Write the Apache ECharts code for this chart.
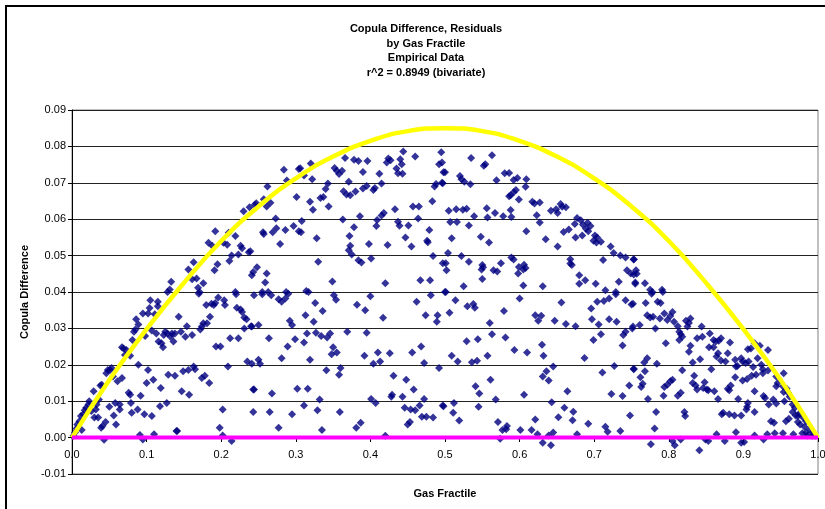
<!DOCTYPE html>
<html>
<head>
<meta charset="utf-8">
<script src="https://cdn.jsdelivr.net/npm/echarts@6/dist/echarts.min.js"></script>
<style>
  html, body { margin: 0; padding: 0; background: #fff; }
  #chart { width: 825px; height: 509px; }
</style>
</head>
<body>
<div id="chart"></div>
<script>
// residual points [gas fractile, copula difference]
const residualPoints = [
    [0.133,0.0428],[0.128,0.040],[0.131,0.0407],[0.156,0.0462],[0.163,0.0482],[0.161,0.0435],[0.167,0.0437],[0.169,0.0412],
    [0.171,0.040],[0.176,0.0424],[0.183,0.0535],[0.188,0.0527],[0.192,0.0567],[0.191,0.046],[0.195,0.0476],[0.203,0.0535],
    [0.208,0.053],[0.210,0.0563],[0.211,0.0485],[0.214,0.050],[0.219,0.0554],[0.223,0.0503],[0.226,0.0527],[0.228,0.052],
    [0.237,0.0509],[0.230,0.0622],[0.238,0.0633],[0.245,0.064],[0.241,0.0446],[0.219,0.040],
    [0.247,0.0644],[0.257,0.0655],[0.261,0.0635],[0.266,0.0645],[0.262,0.069],[0.284,0.0736],[0.288,0.0706],[0.304,0.0738],
    [0.306,0.074],[0.311,0.072],[0.320,0.0753],[0.322,0.071],[0.301,0.0661],[0.319,0.0648],[0.323,0.0626],[0.333,0.0658],
    [0.337,0.0661],[0.340,0.0683],[0.344,0.0635],[0.343,0.0698],[0.352,0.0741],[0.355,0.0733],[0.358,0.0724],[0.362,0.0733],
    [0.366,0.0768],[0.371,0.0703],[0.364,0.0677],[0.368,0.0668],[0.373,0.0666],[0.380,0.0676],[0.378,0.0763],[0.384,0.076],
    [0.390,0.073],[0.396,0.076],[0.390,0.0684],[0.395,0.0691],[0.404,0.068],[0.406,0.0686],[0.412,0.0725],[0.415,0.0698],
    [0.422,0.0756],[0.424,0.0767],[0.427,0.0762],[0.435,0.0739],[0.437,0.0726],[0.440,0.0765],[0.442,0.0751],[0.444,0.0786],
    [0.443,0.0725],[0.460,0.0772],[0.495,0.0784],[0.492,0.0751],[0.498,0.0729],[0.488,0.0697],[0.486,0.069],[0.497,0.0699],
    [0.483,0.0649],[0.433,0.0627],[0.457,0.0635],[0.465,0.0635],[0.415,0.061],[0.418,0.0617],[0.409,0.0598],[0.408,0.0581],
    [0.386,0.0608],[0.378,0.0578],[0.372,0.0554],[0.363,0.0599],[0.373,0.0527],[0.371,0.0515],[0.375,0.0503],[0.384,0.0487],
    [0.388,0.0481],[0.401,0.0492],[0.398,0.0532],[0.423,0.0529],[0.437,0.0593],[0.439,0.0582],[0.451,0.0583],[0.447,0.055],
    [0.455,0.0525],[0.464,0.0602],[0.479,0.057],[0.476,0.0541],[0.477,0.0537],[0.484,0.0499],[0.497,0.0479],[0.467,0.0432],
    [0.480,0.0432],[0.420,0.0424],[0.349,0.0429],[0.330,0.0483],[0.328,0.0548],[0.308,0.0595],[0.297,0.0581],[0.304,0.0567],
    [0.307,0.0564],[0.286,0.057],[0.279,0.0532],[0.273,0.0602],[0.274,0.0575],[0.269,0.0564],[0.257,0.0559],[0.256,0.0564],
    [0.248,0.0468],[0.243,0.0455],[0.261,0.0451],[0.259,0.0426],[0.255,0.040],[0.263,0.040],[0.287,0.040],[0.314,0.0403],
    [0.239,0.0512],
    [0.496,0.0756],[0.500,0.0729],[0.496,0.070],[0.535,0.0768],[0.552,0.0747],[0.554,0.0751],[0.563,0.0776],[0.520,0.0719],
    [0.522,0.071],[0.526,0.0703],[0.534,0.0696],[0.569,0.0707],[0.580,0.0726],[0.586,0.0727],[0.592,0.0708],[0.597,0.0713],
    [0.609,0.071],[0.608,0.0689],[0.595,0.068],[0.592,0.0674],[0.588,0.0666],[0.586,0.0663],[0.599,0.0654],[0.617,0.0648],
    [0.620,0.0643],[0.627,0.0646],[0.505,0.0623],[0.515,0.0627],[0.524,0.0626],[0.529,0.0629],[0.539,0.0608],[0.556,0.063],
    [0.557,0.0605],[0.567,0.0617],[0.578,0.0608],[0.588,0.0625],[0.589,0.0606],[0.623,0.0611],[0.627,0.0591],[0.642,0.0623],
    [0.649,0.0627],[0.651,0.0617],[0.655,0.0642],[0.657,0.0634],[0.662,0.0633],[0.659,0.0565],[0.666,0.0572],[0.674,0.0587],
    [0.677,0.0603],[0.682,0.0597],[0.685,0.0585],[0.691,0.059],[0.695,0.0581],[0.689,0.0574],[0.692,0.0567],[0.684,0.0555],
    [0.675,0.055],[0.701,0.0555],[0.704,0.055],[0.699,0.0541],[0.703,0.0536],[0.709,0.0538],[0.722,0.0525],[0.726,0.0507],
    [0.735,0.050],[0.742,0.0495],[0.753,0.049],[0.712,0.0488],[0.744,0.046],[0.749,0.0451],[0.753,0.0448],[0.733,0.0428],
    [0.755,0.0423],[0.702,0.0423],[0.715,0.0405],[0.729,0.040],[0.688,0.0432],[0.680,0.0446],[0.680,0.0423],[0.668,0.049],
    [0.668,0.0478],[0.670,0.0474],[0.635,0.0545],[0.651,0.0525],[0.609,0.0567],[0.606,0.0475],[0.608,0.0466],[0.605,0.0462],
    [0.599,0.0469],[0.598,0.0451],[0.589,0.0495],[0.592,0.0489],[0.605,0.0418],[0.631,0.0416],[0.575,0.0479],[0.565,0.046],
    [0.570,0.0456],[0.550,0.0474],[0.551,0.0468],[0.549,0.0462],[0.550,0.0436],[0.548,0.0552],[0.559,0.0536],[0.532,0.0483],
    [0.522,0.0499],[0.504,0.0507],[0.501,0.0479],[0.502,0.046],[0.525,0.0416],[0.509,0.0548],[0.507,0.0592],[0.516,0.0592],
    [0.532,0.0583],[0.500,0.040],
    [0.753,0.0489],[0.756,0.046],[0.757,0.045],[0.755,0.0426],[0.768,0.0424],[0.775,0.0406],[0.778,0.040],[0.791,0.0406],
    [0.002,0.0005],[0.004,0.0014],[0.006,0.0025],[0.007,0.0036],[0.010,0.0045],[0.012,0.0059],[0.015,0.0064],[0.013,0.0021],
    [0.017,0.0075],[0.019,0.0082],[0.022,0.0091],[0.023,0.010],[0.026,0.0073],[0.029,0.0127],[0.030,0.0055],[0.033,0.0091],
    [0.032,0.0077],[0.035,0.0055],[0.036,0.0105],[0.038,0.0143],[0.040,0.0145],[0.039,0.0027],[0.041,0.0032],[0.043,-0.0006],
    [0.045,0.0043],[0.046,0.0177],[0.048,0.0186],[0.050,0.0085],[0.051,0.0186],[0.053,0.0191],[0.055,0.0168],[0.056,0.0061],
    [0.058,0.0095],[0.059,0.0036],[0.061,0.0155],[0.064,0.0091],[0.064,0.0077],[0.067,0.0164],[0.067,0.0248],[0.069,0.0245],
    [0.071,0.0227],[0.073,0.0241],[0.076,0.0123],[0.078,0.0118],[0.078,0.0225],[0.079,0.0095],[0.080,0.0068],[0.081,0.0268],
    [0.083,0.0291],[0.085,0.0297],[0.086,0.0325],[0.088,0.0077],[0.089,0.020],[0.089,0.0311],[0.091,0.0007],[0.092,0.0115],
    [0.095,0.0341],[0.095,-0.0005],[0.097,0.0064],[0.098,0.0279],[0.100,0.015],[0.102,0.0186],[0.102,0.0341],[0.104,0.0356],
    [0.105,0.0377],[0.107,0.0059],[0.107,0.0294],[0.109,0.0159],[0.110,0.0009],[0.111,0.0339],[0.113,0.0286],[0.115,0.0361],
    [0.115,0.0373],[0.116,0.0264],[0.118,0.0086],[0.119,0.0136],[0.120,0.0259],[0.122,0.0248],[0.123,0.0282],[0.125,0.0291],
    [0.127,0.0095],[0.128,0.0286],[0.129,0.0173],[0.132,0.0277],[0.134,0.0286],[0.136,0.0264],[0.138,0.0286],[0.138,0.017],
    [0.140,0.0018],[0.141,0.0018],[0.143,0.0332],[0.146,0.0291],[0.147,0.0127],[0.149,0.0182],[0.152,0.0277],[0.154,0.0306],
    [0.156,0.0186],[0.157,0.0118],[0.161,0.0282],[0.163,0.0195],[0.165,0.0188],[0.170,0.0395],[0.172,0.0297],[0.174,0.0305],
    [0.174,0.0164],[0.176,0.0314],[0.178,0.017],[0.180,0.0364],[0.181,0.0314],[0.184,0.015],[0.185,0.0332],[0.187,0.0368],
    [0.190,0.0364],[0.192,0.0370],[0.193,0.025],[0.196,0.0385],[0.198,0.0027],[0.199,0.025],[0.202,0.0077],[0.202,0.0006],
    [0.204,0.0377],[0.205,0.0364],[0.209,0.0195],[0.212,0.0273],[0.214,-0.0009],[0.220,0.0394],[0.221,0.0357],[0.223,0.0273],
    [0.226,0.0352],[0.228,0.0345],[0.231,0.033],[0.234,0.0325],[0.231,0.030],[0.235,0.0209],[0.240,0.0306],[0.243,0.0132],
    [0.243,0.007],[0.241,0.0203],
    [0.244,0.0391],[0.255,0.0394],[0.267,0.0391],[0.277,0.038],[0.281,0.0373],[0.286,0.0382],[0.290,0.0395],[0.317,0.040],
    [0.326,0.037],[0.351,0.0391],[0.354,0.0379],[0.336,0.0348],[0.313,0.0336],[0.324,0.0318],[0.292,0.0321],[0.295,0.0309],
    [0.241,0.0305],[0.250,0.0309],[0.264,0.0273],[0.289,0.025],[0.299,0.027],[0.311,0.0261],[0.315,0.0286],[0.327,0.0288],
    [0.334,0.0279],[0.342,0.0275],[0.346,0.0286],[0.350,0.0248],[0.348,0.0229],[0.355,0.0234],[0.369,0.0291],[0.382,0.0365],
    [0.393,0.035],[0.400,0.0388],[0.395,0.0288],[0.417,0.0329],[0.392,0.0225],[0.404,0.0203],[0.410,0.0234],[0.413,0.0209],
    [0.426,0.0232],[0.250,0.0214],[0.252,0.0203],[0.281,0.0218],[0.319,0.0214],[0.341,0.0185],[0.360,0.0191],[0.358,0.0173],
    [0.244,0.0132],[0.268,0.0121],[0.302,0.0134],[0.316,0.0134],[0.332,0.0105],[0.311,0.0088],[0.265,0.007],[0.295,0.0064],
    [0.329,0.0075],[0.359,0.007],[0.277,0.0027],[0.335,0.0021],[0.381,0.0027],[0.387,0.0041],[0.401,0.0106],[0.407,0.0095],
    [0.420,0.0005],[0.431,0.017],[0.448,0.0159],[0.458,0.0132],[0.429,0.0118],[0.428,0.0112],[0.443,0.0112],[0.446,0.0082],
    [0.454,0.0077],[0.460,0.0075],[0.466,0.0088],[0.472,0.0106],[0.469,0.0057],[0.475,0.0057],[0.484,0.0055],[0.453,0.0043],
    [0.450,0.0036],[0.456,0.0234],[0.468,0.025],[0.472,0.0205],[0.492,0.0191],[0.462,0.0373],[0.474,0.0336],[0.481,0.0391],
    [0.489,0.0318],[0.490,0.0336],[0.498,0.0086],
    [0.501,0.040],[0.514,0.0377],[0.506,0.0343],[0.530,0.0361],[0.538,0.0367],[0.540,0.0357],[0.600,0.0382],[0.579,0.0348],
    [0.560,0.0315],[0.563,0.0284],[0.581,0.0275],[0.529,0.0265],[0.544,0.027],[0.509,0.0225],[0.517,0.0209],[0.536,0.0207],
    [0.543,0.0211],[0.557,0.0225],[0.593,0.0241],[0.610,0.0234],[0.621,0.0336],[0.629,0.0335],[0.625,0.0321],[0.647,0.0321],
    [0.656,0.0371],[0.662,0.0312],[0.675,0.0306],[0.630,0.0255],[0.632,0.0225],[0.645,0.0195],[0.636,0.0182],[0.631,0.0168],
    [0.639,0.0157],[0.687,0.0219],[0.696,0.0355],[0.704,0.0373],[0.713,0.0375],[0.720,0.0382],[0.729,0.0394],[0.742,0.0377],
    [0.750,0.0366],[0.697,0.0325],[0.706,0.0311],[0.720,0.0325],[0.730,0.0318],[0.709,0.0284],[0.699,0.0268],[0.739,0.0282],
    [0.742,0.0291],[0.751,0.030],[0.738,0.0253],[0.727,0.0197],[0.711,0.0179],[0.753,0.0189],[0.747,0.0143],[0.738,0.0114],
    [0.723,0.012],[0.664,0.0127],[0.643,0.0097],[0.660,0.0082],[0.672,0.0071],[0.652,0.0056],[0.671,0.0048],[0.692,0.0038],
    [0.748,0.0061],[0.715,0.003],[0.718,0.0016],[0.735,0.0018],[0.677,0.0009],[0.621,0.005],[0.616,0.0021],[0.624,0.0009],
    [0.601,0.0021],[0.639,0.0006],[0.645,0.0014],[0.631,-0.0014],[0.642,-0.0021],[0.606,0.0118],[0.568,0.0105],[0.561,0.0159],
    [0.541,0.0141],[0.546,0.0121],[0.545,0.0085],[0.512,0.0095],[0.497,0.0088],[0.511,0.0068],[0.519,0.0047],[0.571,0.0043],
    [0.577,0.0021],[0.583,0.0032],[0.582,0.0023],[0.574,-0.0003],
    [0.752,0.0368],[0.769,0.037],[0.777,0.0395],[0.785,0.0373],[0.789,0.037],[0.792,0.040],[0.771,0.0336],[0.775,0.033],
    [0.779,0.0332],[0.788,0.0327],[0.794,0.0341],[0.798,0.0323],[0.802,0.0334],[0.805,0.0345],[0.807,0.0318],[0.812,0.0306],
    [0.814,0.0291],[0.816,0.0284],[0.818,0.0277],[0.823,0.0321],[0.825,0.0305],[0.829,0.0327],[0.827,0.0315],[0.814,0.0268],
    [0.752,0.0305],[0.761,0.0309],[0.782,0.030],[0.844,0.0305],[0.838,0.0273],[0.845,0.0277],[0.855,0.0286],[0.860,0.0268],
    [0.863,0.0264],[0.867,0.0266],[0.870,0.0273],[0.882,0.0261],[0.796,0.0259],[0.829,0.0252],[0.827,0.0236],[0.854,0.0248],
    [0.860,0.0248],[0.866,0.0232],[0.864,0.0223],[0.870,0.0212],[0.879,0.0232],[0.876,0.0209],[0.889,0.0214],[0.897,0.0218],
    [0.906,0.0243],[0.910,0.0245],[0.915,0.0259],[0.922,0.0252],[0.933,0.0241],[0.832,0.0206],[0.842,0.0215],[0.857,0.0188],
    [0.753,0.0188],[0.767,0.0206],[0.771,0.0218],[0.784,0.0203],[0.818,0.0185],[0.768,0.0182],[0.834,0.017],[0.890,0.0195],
    [0.892,0.0197],[0.899,0.0209],[0.903,0.0205],[0.907,0.0209],[0.913,0.0194],[0.919,0.0218],[0.924,0.020],[0.926,0.0188],
    [0.917,0.0173],[0.911,0.017],[0.905,0.0161],[0.899,0.0157],[0.889,0.0166],[0.926,0.0177],[0.933,0.0184],[0.944,0.0168],
    [0.954,0.0177],[0.762,0.0166],[0.765,0.0148],[0.763,0.0139],[0.802,0.0155],[0.805,0.0159],[0.798,0.0145],[0.794,0.0139],
    [0.832,0.015],[0.836,0.0143],[0.838,0.0132],[0.848,0.0152],[0.851,0.0132],[0.853,0.013],[0.861,0.0127],[0.846,0.0136],
    [0.879,0.0134],[0.883,0.0143],[0.881,0.013],[0.915,0.0127],[0.944,0.0141],[0.946,0.015],[0.953,0.0141],[0.954,0.0125],
    [0.958,0.0134],[0.960,0.0123],[0.962,0.0112],[0.927,0.0114],[0.929,0.0109],[0.940,0.0105],[0.934,0.0091],[0.944,0.0094],
    [0.955,0.010],[0.816,0.0123],[0.812,0.0115],[0.793,0.0115],[0.772,0.0106],[0.866,0.0106],[0.893,0.0106],[0.906,0.0095],
    [0.905,0.0085],[0.915,0.007],[0.873,0.0068],[0.871,0.0064],[0.881,0.0064],[0.888,0.0061],[0.897,0.0061],[0.904,0.0077],
    [0.821,0.007],[0.822,0.0059],[0.783,0.007],[0.966,0.0091],[0.969,0.0082],[0.966,0.007],[0.970,0.0061],[0.957,0.0045],
    [0.961,0.0052],[0.973,0.0059],[0.975,0.0066],[0.980,0.0055],[0.984,0.0045],[0.937,0.0045],[0.941,0.0041],[0.973,0.0043],
    [0.976,0.0036],[0.982,0.003],[0.989,0.0023],[0.993,0.0014],[0.996,0.0005],[0.781,0.0025],[0.890,0.0015],[0.864,0.0009],
    [0.915,0.0006],[0.932,0.0009],[0.942,0.0012],[0.953,0.0012],[0.967,0.0009],[0.979,0.0012],[0.984,0.0014],[0.986,0.0006],
    [0.992,0.0005],[0.776,-0.0018],[0.805,-0.0009],[0.808,-0.0021],[0.841,-0.0035],[0.853,-0.0009],[0.875,-0.0009],[0.897,-0.0014],
    [0.901,-0.0012],[0.816,-0.0005],[0.927,-0.0005],[0.849,-0.0005]
];

// yellow bound curve, read at steps of 0.05
const curveX = [0, 0.05, 0.1, 0.15, 0.2, 0.25, 0.3, 0.35, 0.4, 0.45, 0.5,
                0.55, 0.6, 0.65, 0.7, 0.75, 0.8, 0.85, 0.9, 0.95, 1];
const curveY = [0, 0.0158, 0.0298, 0.0425, 0.0540, 0.0635, 0.0712, 0.0772, 0.0815, 0.0842, 0.0850,
                0.0842, 0.0815, 0.0772, 0.0712, 0.0635, 0.0540, 0.0425, 0.0298, 0.0158, 0];

// magenta zero line
const zeroLine = [[0, 0], [1, 0]];

const titleLines = [
    "Copula Difference, Residuals",
    "by Gas Fractile",
    "Empirical Data",
    "r^2 = 0.8949 (bivariate)"
];

const font = "'Liberation Sans', Arial, sans-serif";

let myChart = echarts.init(document.getElementById("chart"), null, { renderer: "canvas" });

option = {
    animation: false,
    backgroundColor: "#fff",
    title: {
        text: titleLines.join("\n"),
        left: 421,
        top: 17,
        textAlign: "center",
        textStyle: {
            fontFamily: font,
            fontSize: 11,
            fontWeight: "bold",
            color: "#000",
            lineHeight: 14.5,
        },
    },
    graphic: [
        {
            type: "rect",
            shape: { x: 6, y: 6, width: 900, height: 600 },
            style: { fill: "none", stroke: "#000", lineWidth: 2 },
            silent: true,
        },
    ],
    grid: {
        left: 72,
        right: 7,
        top: 110,
        bottom: 35,
        containLabel: false,
        outerBoundsMode: "none",
        show: true,
        borderColor: "#808080",
        borderWidth: 1,
    },
    xAxis: {
        type: "value",
        min: 0,
        max: 1,
        interval: 0.1,
        position: "bottom",
        offset: -36,
        name: "Gas Fractile",
        nameLocation: "middle",
        nameGap: 50,
        nameTextStyle: { fontFamily: font, fontSize: 11, fontWeight: "bold", color: "#000" },
        axisLine: { onZero: false, lineStyle: { color: "#000", width: 1 } },
        axisTick: { show: true, length: 4, lineStyle: { color: "#000" } },
        axisLabel: {
            fontFamily: font,
            fontSize: 11,
            color: "#000",
            margin: 11,
            formatter: (v) => v.toFixed(1),
        },
        splitLine: { show: false },
    },
    yAxis: {
        type: "value",
        min: -0.01,
        max: 0.09,
        interval: 0.01,
        name: "Copula Difference",
        nameLocation: "middle",
        nameGap: 31,
        nameTextStyle: { fontFamily: font, fontSize: 11, fontWeight: "bold", color: "#000" },
        axisLine: { show: true, lineStyle: { color: "#000", width: 1 } },
        axisTick: { show: true, length: 4, lineStyle: { color: "#000" } },
        axisLabel: {
            fontFamily: font,
            fontSize: 11,
            color: "#000",
            margin: 6,
            formatter: (v) => v.toFixed(2),
        },
        splitLine: { show: true, lineStyle: { color: "#222", width: 1 } },
    },
    series: [
        {
            name: "Residuals",
            type: "scatter",
            symbol: "diamond",
            symbolSize: 8,
            itemStyle: { color: "#000080" },
            data: residualPoints,
            z: 2,
        },
        {
            name: "Bound",
            type: "line",
            smooth: true,
            showSymbol: false,
            lineStyle: { color: "#FFFF00", width: 4.5 },
            data: curveX.map((x, i) => [x, curveY[i]]),
            z: 3,
        },
        {
            name: "Zero",
            type: "line",
            showSymbol: false,
            lineStyle: { color: "#FF00FF", width: 4 },
            data: zeroLine,
            z: 4,
        },
    ],
};

myChart.setOption(option);
window.addEventListener("resize", function () {
    myChart.resize();
});
</script>
</body>
</html>
